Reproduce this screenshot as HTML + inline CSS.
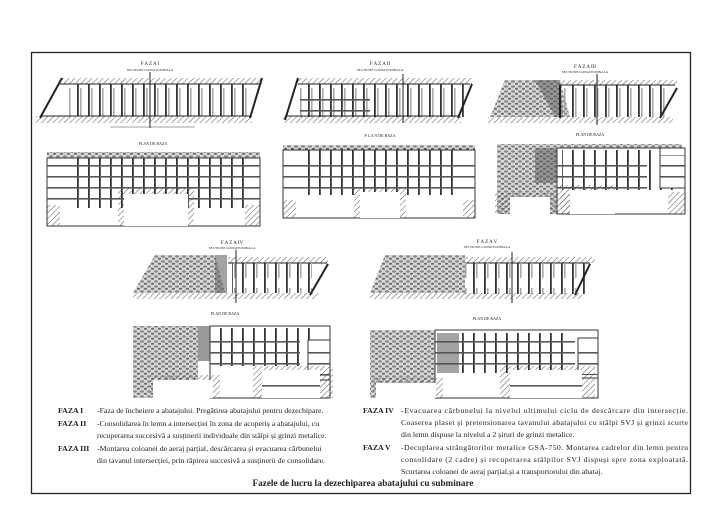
<!DOCTYPE html>
<html><head><meta charset="utf-8"><style>
html,body{margin:0;padding:0;background:#fff;}
svg{display:block}
text{font-family:"Liberation Serif",serif;fill:#222}
</style></head><body>
<svg width="728" height="514" viewBox="0 0 728 514" xmlns="http://www.w3.org/2000/svg">
<defs>
<pattern id="h" width="4" height="4" patternUnits="userSpaceOnUse" patternTransform="rotate(45)"><line x1="0" y1="0" x2="0" y2="4" stroke="#444" stroke-width=".9"/></pattern>
<pattern id="p" width="11" height="40" patternUnits="userSpaceOnUse"><rect x="0" y="0" width="1.8" height="40" fill="#333"/><rect x="3" y="8" width="1.6" height="30" fill="#aaa"/></pattern>
<pattern id="pv" width="11" height="40" patternUnits="userSpaceOnUse"><rect x="0" y="0" width="1.8" height="40" fill="#333"/></pattern>
<pattern id="ph" width="40" height="11" patternUnits="userSpaceOnUse"><rect x="0" y="0" width="40" height="1.6" fill="#555"/></pattern>
<pattern id="s" width="7" height="5" patternUnits="userSpaceOnUse"><rect width="7" height="5" fill="#d8d8d8"/><ellipse cx="2" cy="1.5" rx="2" ry="1.2" fill="#888"/><ellipse cx="5.5" cy="3.8" rx="1.6" ry="1" fill="#666"/></pattern>
</defs>
<rect x="0" y="0" width="728" height="514" fill="#fff"/>
<rect x="31.5" y="52.5" width="659" height="441" fill="none" stroke="#222" stroke-width="1.3"/>

<!-- FAZA I -->
<text x="150" y="65" font-size="5" text-anchor="middle">F A Z A  I</text>
<text x="150" y="71" font-size="3.5" text-anchor="middle">SECTIUNE LONGITUDINALA</text>
<rect x="60" y="78" width="202" height="6" fill="url(#h)"/>
<line x1="60" y1="84" x2="260" y2="84" stroke="#222"/>
<rect x="68" y="84" width="180" height="32" fill="url(#p)"/>
<rect x="36" y="116" width="216" height="7" fill="url(#h)"/>
<line x1="40" y1="116" x2="250" y2="116" stroke="#222"/>
<line x1="40" y1="118" x2="62" y2="78" stroke="#222" stroke-width="2"/>
<line x1="250" y1="118" x2="262" y2="78" stroke="#222" stroke-width="2"/>
<line x1="150" y1="72" x2="150" y2="128" stroke="#222"/>
<line x1="110" y1="127" x2="195" y2="127" stroke="#444" stroke-width=".6"/>
<text x="153" y="145" font-size="4" text-anchor="middle">PLAN DE BAZA</text>
<rect x="47" y="152" width="213" height="6" fill="url(#s)"/>
<rect x="47" y="158" width="213" height="68" fill="none" stroke="#333"/>
<rect x="77" y="158" width="170" height="50" fill="url(#pv)"/>
<rect x="47" y="165" width="213" height="40" fill="url(#ph)"/>
<rect x="118" y="188" width="76" height="38" fill="url(#h)"/>
<rect x="124" y="194" width="64" height="32" fill="#fff"/>
<rect x="47" y="205" width="13" height="21" fill="url(#h)"/>
<rect x="245" y="205" width="15" height="21" fill="url(#h)"/>

<!-- FAZA II -->
<text x="380" y="65" font-size="5" text-anchor="middle">F A Z A  II</text>
<text x="380" y="71" font-size="3.5" text-anchor="middle">SECTIUNE LONGITUDINALA</text>
<rect x="298" y="78" width="174" height="6" fill="url(#h)"/>
<line x1="298" y1="84" x2="470" y2="84" stroke="#222"/>
<rect x="300" y="84" width="165" height="33" fill="url(#p)"/>
<rect x="300" y="92" width="70" height="25" fill="url(#ph)"/>
<rect x="283" y="116" width="178" height="7" fill="url(#h)"/>
<line x1="285" y1="116" x2="460" y2="116" stroke="#222"/>
<line x1="285" y1="120" x2="298" y2="78" stroke="#222" stroke-width="2"/>
<line x1="458" y1="118" x2="472" y2="84" stroke="#222" stroke-width="2"/>
<line x1="403" y1="74" x2="403" y2="123" stroke="#222"/>
<text x="380" y="137" font-size="4" text-anchor="middle">P L A N  DE  BAZA</text>
<rect x="283" y="145" width="192" height="5" fill="url(#s)"/>
<rect x="283" y="150" width="192" height="68" fill="none" stroke="#333"/>
<rect x="300" y="150" width="160" height="45" fill="url(#pv)"/>
<rect x="283" y="157" width="192" height="40" fill="url(#ph)"/>
<rect x="354" y="187" width="52" height="31" fill="url(#h)"/>
<rect x="360" y="192" width="40" height="26" fill="#fff"/>
<rect x="283" y="200" width="13" height="18" fill="url(#h)"/>
<rect x="463" y="200" width="12" height="18" fill="url(#h)"/>

<!-- FAZA III -->
<text x="585" y="68" font-size="5" text-anchor="middle">F A Z A  III</text>
<text x="585" y="73" font-size="3.5" text-anchor="middle">SECTIUNE LONGITUDINALA</text>
<polygon points="505,80 560,80 570,117 490,117" fill="url(#s)"/>
<polygon points="535,80 560,80 563,117 555,117" fill="#555" opacity=".5"/>
<rect x="560" y="80" width="117" height="5" fill="url(#h)"/>
<line x1="560" y1="85" x2="675" y2="85" stroke="#222"/>
<rect x="564" y="85" width="105" height="32" fill="url(#p)"/>
<line x1="560" y1="85" x2="560" y2="118" stroke="#222" stroke-width="2"/>
<rect x="488" y="117" width="185" height="6" fill="url(#h)"/>
<line x1="660" y1="118" x2="677" y2="88" stroke="#222" stroke-width="2"/>
<line x1="597" y1="74" x2="597" y2="125" stroke="#222"/>
<text x="590" y="136" font-size="4" text-anchor="middle">PLAN DE BAZA</text>
<rect x="497" y="144" width="185" height="4" fill="url(#s)"/>
<rect x="497" y="148" width="60" height="66" fill="url(#s)"/>
<rect x="535" y="148" width="22" height="35" fill="#555" opacity=".5"/>
<rect x="557" y="148" width="128" height="66" fill="none" stroke="#333"/>
<rect x="562" y="150" width="115" height="40" fill="url(#pv)"/>
<rect x="557" y="160" width="90" height="30" fill="url(#ph)"/>
<rect x="660" y="148" width="25" height="40" fill="#fff" stroke="#333"/>
<rect x="660" y="155" width="25" height="30" fill="url(#ph)"/>
<rect x="495" y="193" width="93" height="21" fill="url(#h)"/>
<rect x="510" y="197" width="40" height="17" fill="#fff"/>
<rect x="560" y="185" width="55" height="29" fill="url(#h)"/>
<rect x="570" y="190" width="45" height="24" fill="#fff"/>
<rect x="668" y="192" width="17" height="22" fill="url(#h)"/>

<!-- FAZA IV -->
<text x="232" y="244" font-size="5" text-anchor="middle">F A Z A  IV</text>
<text x="232" y="249" font-size="3.5" text-anchor="middle">SECTIUNE LONGITUDINALA</text>
<polygon points="155,255 215,255 225,293 133,293" fill="url(#s)"/>
<rect x="215" y="255" width="12" height="38" fill="#666" opacity=".6"/>
<rect x="228" y="257" width="100" height="6" fill="url(#h)"/>
<line x1="228" y1="263" x2="327" y2="263" stroke="#222"/>
<rect x="232" y="263" width="80" height="30" fill="url(#p)"/>
<rect x="133" y="293" width="185" height="6" fill="url(#h)"/>
<line x1="310" y1="295" x2="328" y2="264" stroke="#222" stroke-width="2"/>
<line x1="236" y1="250" x2="236" y2="303" stroke="#222"/>
<text x="225" y="315" font-size="4" text-anchor="middle">PLAN DE BAZA</text>
<rect x="133" y="326" width="65" height="72" fill="url(#s)"/>
<rect x="198" y="326" width="12" height="35" fill="#555" opacity=".6"/>
<rect x="210" y="326" width="120" height="72" fill="none" stroke="#333"/>
<rect x="215" y="328" width="95" height="38" fill="url(#pv)"/>
<rect x="210" y="338" width="90" height="28" fill="url(#ph)"/>
<rect x="308" y="340" width="22" height="40" fill="#fff" stroke="#333"/>
<rect x="308" y="346" width="22" height="30" fill="url(#ph)"/>
<rect x="150" y="375" width="70" height="23" fill="url(#h)"/>
<rect x="153" y="380" width="60" height="18" fill="#fff"/>
<rect x="253" y="366" width="80" height="32" fill="url(#h)"/>
<rect x="262" y="370" width="58" height="28" fill="#fff"/>
<rect x="262" y="378" width="58" height="11" fill="url(#ph)"/>

<!-- FAZA V -->
<text x="487" y="243" font-size="5" text-anchor="middle">F A Z A  V</text>
<text x="487" y="248" font-size="3.5" text-anchor="middle">SECTIUNE LONGITUDINALA</text>
<polygon points="385,255 465,255 465,293 370,293" fill="url(#s)"/>
<rect x="465" y="257" width="130" height="6" fill="url(#h)"/>
<line x1="465" y1="263" x2="590" y2="263" stroke="#222"/>
<rect x="465" y="263" width="120" height="31" fill="url(#p)"/>
<rect x="370" y="293" width="212" height="6" fill="url(#h)"/>
<line x1="575" y1="295" x2="590" y2="264" stroke="#222" stroke-width="2"/>
<line x1="512" y1="252" x2="512" y2="303" stroke="#222"/>
<text x="487" y="320" font-size="4" text-anchor="middle">PLAN DE BAZA</text>
<rect x="370" y="330" width="65" height="68" fill="url(#s)"/>
<rect x="435" y="330" width="163" height="68" fill="none" stroke="#333"/>
<rect x="437" y="333" width="22" height="40" fill="#333" opacity=".45"/>
<rect x="460" y="333" width="110" height="40" fill="url(#pv)"/>
<rect x="435" y="340" width="140" height="30" fill="url(#ph)"/>
<rect x="578" y="338" width="20" height="40" fill="#fff" stroke="#333"/>
<rect x="578" y="345" width="20" height="30" fill="url(#ph)"/>
<rect x="373" y="378" width="70" height="20" fill="url(#h)"/>
<rect x="376" y="383" width="60" height="15" fill="#fff"/>
<rect x="500" y="366" width="95" height="32" fill="url(#h)"/>
<rect x="510" y="370" width="72" height="28" fill="#fff"/>
<rect x="510" y="378" width="72" height="11" fill="url(#ph)"/>

<!-- TEXT -->
<g font-size="7.8">
<text x="58" y="413" font-weight="bold">FAZA I</text>
<text x="97" y="413">-Faza de încheiere a abatajului. Pregătirea abatajului pentru dezechipare.</text>
<text x="58" y="426" font-weight="bold">FAZA II</text>
<text x="97" y="426">-Consolidarea în lemn a intersecției în zona de acoperiș a abatajului, cu</text>
<text x="97" y="438">recuperarea succesivă a susținerii individuale din stâlpi și grinzi metalice.</text>
<text x="58" y="451" font-weight="bold">FAZA III</text>
<text x="97" y="451">-Montarea coloanei de aeraj parțial, descărcarea și evacuarea cărbunelui</text>
<text x="97" y="463">din tavanul intersecției, prin răpirea succesivă a susținerii de consolidare.</text>
<text x="363" y="413" font-weight="bold">FAZA IV</text>
<text x="401" y="413" textLength="287" lengthAdjust="spacing">-Evacuarea cărbunelui la nivelul ultimului ciclu de descărcare din intersecție.</text>
<text x="401" y="425" textLength="287" lengthAdjust="spacing">Coaserea plasei și pretensionarea tavanului abatajului cu stâlpi SVJ și grinzi scurte</text>
<text x="401" y="437">din lemn dispuse la nivelul a 2 șiruri de grinzi metalice.</text>
<text x="363" y="450" font-weight="bold">FAZA V</text>
<text x="401" y="450" textLength="287" lengthAdjust="spacing">-Decuplarea strângătorilor metalice GSA-750. Montarea cadrelor din lemn pentru</text>
<text x="401" y="462" textLength="287" lengthAdjust="spacing">consolidare (2 cadre) și recuperarea stâlpilor SVJ dispuși spre zona exploatată.</text>
<text x="401" y="474">Scurtarea coloanei de aeraj parțial,și a transportorului din abataj.</text>
</g>
<text x="363" y="486" font-size="9.2" font-weight="bold" text-anchor="middle">Fazele de lucru la dezechiparea abatajului cu subminare</text>
</svg>
</body></html>
